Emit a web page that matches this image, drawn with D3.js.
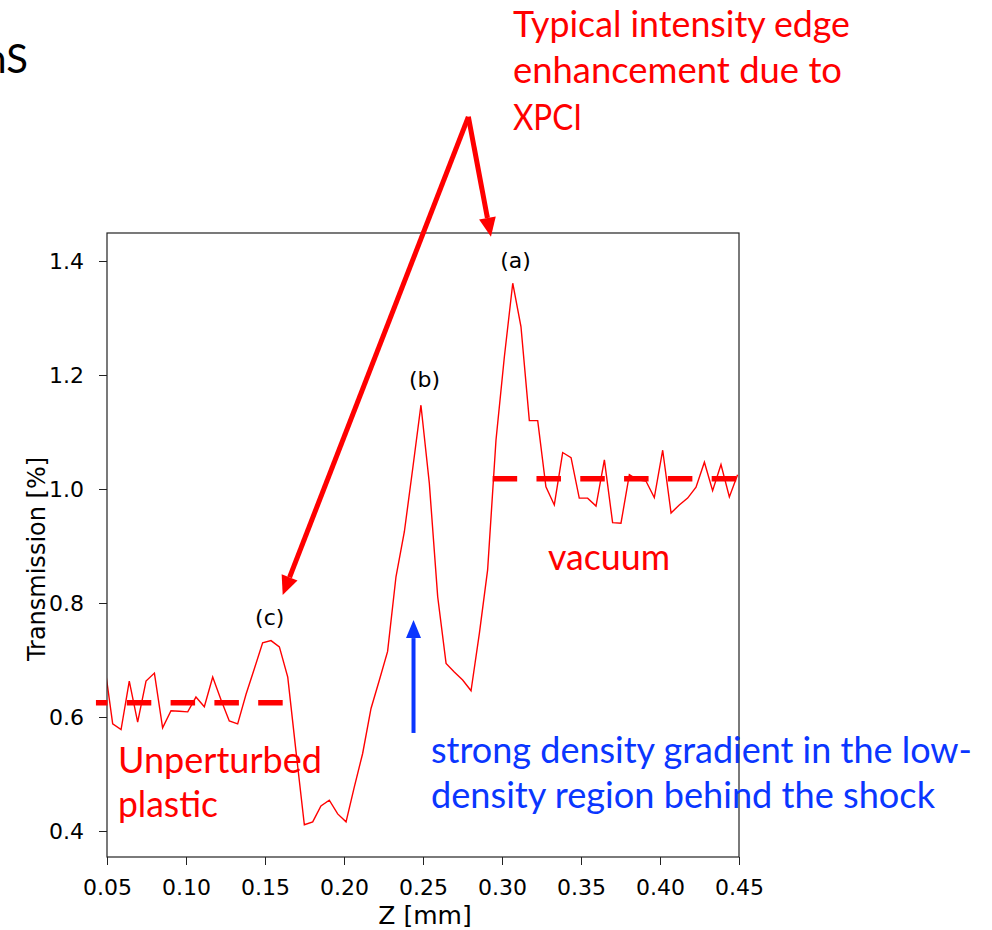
<!DOCTYPE html>
<html>
<head>
<meta charset="utf-8">
<script src="https://cdn.jsdelivr.net/npm/d3@7"></script>
<style>
  html, body { margin: 0; padding: 0; background: #fff; }
  svg { display: block; }
</style>
</head>
<body>
<div id="chart"></div>
<script>
// Z position [mm] of each sample of the lineout
const zValues = [
  0.0483, 0.0536, 0.0589, 0.0641, 0.0694, 0.0747, 0.0800, 0.0852, 0.0905, 0.0958,
  0.1011, 0.1063, 0.1116, 0.1169, 0.1222, 0.1274, 0.1327, 0.1380, 0.1433, 0.1485,
  0.1538, 0.1591, 0.1644, 0.1696, 0.1749, 0.1802, 0.1854, 0.1907, 0.1960, 0.2013,
  0.2065, 0.2118, 0.2171, 0.2224, 0.2276, 0.2329, 0.2382, 0.2435, 0.2487, 0.2540,
  0.2593, 0.2646, 0.2698, 0.2751, 0.2804, 0.2857, 0.2909, 0.2962, 0.3015, 0.3068,
  0.3120, 0.3173, 0.3226, 0.3278, 0.3331, 0.3384, 0.3437, 0.3489, 0.3542, 0.3595,
  0.3648, 0.3700, 0.3753, 0.3806, 0.3859, 0.3911, 0.3964, 0.4017, 0.4070, 0.4122,
  0.4175, 0.4228, 0.4281, 0.4333, 0.4386, 0.4439, 0.4491
]

// transmission read at each z
const transmission = [
  0.695, 0.588, 0.578, 0.663, 0.591, 0.663, 0.677, 0.581, 0.611, 0.610,
  0.609, 0.635, 0.618, 0.670, 0.630, 0.593, 0.588, 0.640, 0.685, 0.730,
  0.734, 0.723, 0.670, 0.540, 0.411, 0.416, 0.444, 0.454, 0.430, 0.416,
  0.477, 0.536, 0.615, 0.665, 0.715, 0.846, 0.925, 1.036, 1.147, 1.010,
  0.811, 0.694, 0.679, 0.665, 0.646, 0.747, 0.858, 1.086, 1.232, 1.361,
  1.285, 1.120, 1.120, 1.004, 0.972, 1.064, 1.055, 0.984, 0.984, 0.970,
  1.051, 0.941, 0.940, 1.025, 1.016, 1.014, 0.985, 1.068, 0.958, 0.972,
  0.984, 1.003, 1.047, 0.997, 1.043, 0.986, 1.025
]

const xTicks = [0.05, 0.10, 0.15, 0.20, 0.25, 0.30, 0.35, 0.40, 0.45]
const yTicks = [0.4, 0.6, 0.8, 1.0, 1.2, 1.4]

// dashed mean levels: [zStart, zEnd, level]
const plasticLevel = [0.1612, 0.0430, 0.625]
const vacuumLevel = [0.2941, 0.4500, 1.018]

// peak labels: [text, z, transmission]
const peakLabels = [
  ["(a)", 0.3086, 1.388],
  ["(b)", 0.2510, 1.179],
  ["(c)", 0.1530, 0.762]
]

const width = 992
const height = 930
const plot = { left: 107, right: 739, top: 233, bottom: 857 }

const x = d3.scaleLinear().domain([0.05, 0.45]).range([plot.left, plot.right])
const y = d3.scaleLinear().domain([0.4, 1.4]).range([831, 261])

const red = "#ff0000"
const blue = "#0a36ff"
const slideFont = "Lato, 'Open Sans', sans-serif"
const plotFont = "'DejaVu Sans', sans-serif"

const svg = d3.select("#chart")
  .append("svg")
  .attr("width", width)
  .attr("height", height)
  .attr("viewBox", `0 0 ${width} ${height}`)

svg.append("defs").append("clipPath")
  .attr("id", "plot-clip")
  .append("rect")
  .attr("x", plot.left)
  .attr("y", plot.top)
  .attr("width", plot.right - plot.left)
  .attr("height", plot.bottom - plot.top)

// lineout
const points = zValues.map((z, i) => [z, transmission[i]])
svg.append("path")
  .datum(points)
  .attr("clip-path", "url(#plot-clip)")
  .attr("fill", "none")
  .attr("stroke", red)
  .attr("stroke-width", 1.4)
  .attr("stroke-linejoin", "miter")
  .attr("d", d3.line().x(d => x(d[0])).y(d => y(d[1])))

// axes
svg.append("g")
  .attr("transform", `translate(0,${plot.bottom})`)
  .call(d3.axisBottom(x).tickValues(xTicks).tickFormat(d3.format(".2f")).tickSize(8).tickPadding(14))
  .call(g => g.select(".domain").remove())
  .call(g => g.selectAll(".tick line").attr("stroke", "#222"))
  .call(g => g.selectAll(".tick text").attr("font-family", plotFont).attr("font-size", 22).attr("fill", "#000"))

svg.append("g")
  .attr("transform", `translate(${plot.left},0)`)
  .call(d3.axisLeft(y).tickValues(yTicks).tickFormat(d3.format(".1f")).tickSize(8).tickPadding(15))
  .call(g => g.select(".domain").remove())
  .call(g => g.selectAll(".tick line").attr("stroke", "#222"))
  .call(g => g.selectAll(".tick text").attr("font-family", plotFont).attr("font-size", 22).attr("fill", "#000"))

// frame
svg.append("rect")
  .attr("x", plot.left)
  .attr("y", plot.top)
  .attr("width", plot.right - plot.left)
  .attr("height", plot.bottom - plot.top)
  .attr("fill", "none")
  .attr("stroke", "#222")
  .attr("stroke-width", 1.2)

svg.append("text")
  .attr("x", (plot.left + plot.right) / 2 + 2)
  .attr("y", 924)
  .attr("text-anchor", "middle")
  .attr("font-family", plotFont)
  .attr("font-size", 25)
  .attr("fill", "#000")
  .text("Z [mm]")

svg.append("text")
  .attr("transform", `translate(45,${(plot.top + plot.bottom) / 2 + 14}) rotate(-90)`)
  .attr("text-anchor", "middle")
  .attr("font-family", plotFont)
  .attr("font-size", 24)
  .attr("fill", "#000")
  .text("Transmission [%]")

// peak labels
peakLabels.forEach(([t, z, v]) => {
  svg.append("text")
    .attr("x", x(z))
    .attr("y", y(v))
    .attr("text-anchor", "middle")
    .attr("font-family", plotFont)
    .attr("font-size", 22)
    .attr("fill", "#000")
    .text(t)
})

// dashed levels
;[plasticLevel, vacuumLevel].forEach(([z0, z1, v]) => {
  svg.append("line")
    .attr("x1", x(z0)).attr("x2", x(z1))
    .attr("y1", y(v)).attr("y2", y(v))
    .attr("stroke", red)
    .attr("stroke-width", 5.5)
    .attr("stroke-dasharray", "24.5 19.3")
})

// arrows, endpoints in data units
function arrow(from, to, color, lineW, headLen, headW) {
  const x0 = x(from[0]), y0 = y(from[1])
  const x1 = x(to[0]), y1 = y(to[1])
  const a = Math.atan2(y1 - y0, x1 - x0)
  const bx = x1 - headLen * Math.cos(a), by = y1 - headLen * Math.sin(a)
  svg.append("line")
    .attr("x1", x0).attr("y1", y0)
    .attr("x2", bx).attr("y2", by)
    .attr("stroke", color)
    .attr("stroke-width", lineW)
  const nx = -Math.sin(a) * headW / 2, ny = Math.cos(a) * headW / 2
  svg.append("polygon")
    .attr("points", [[x1, y1], [bx + nx, by + ny], [bx - nx, by - ny]].map(p => p.join(",")).join(" "))
    .attr("fill", color)
}

const apex = [0.2787, 1.653]
arrow(apex, [0.2930, 1.4426], red, 5, 19, 17)
arrow(apex, [0.1612, 0.814], red, 5, 19, 17)
arrow([0.2440, 0.572], [0.2440, 0.770], blue, 4, 18, 15)

// slide texts
function slideText(str, px, py, len, color, size) {
  svg.append("text")
    .attr("x", px)
    .attr("y", py)
    .attr("font-family", slideFont)
    .attr("font-size", size)
    .attr("fill", color)
    .attr("textLength", len)
    .attr("lengthAdjust", "spacingAndGlyphs")
    .text(str)
}

slideText("Typical intensity edge", 513, 37, 337, red, 36)
slideText("enhancement due to", 513, 83, 329, red, 36)
slideText("XPCI", 513, 130, 69, red, 36)
slideText("vacuum", 548, 570, 122, red, 36)
slideText("Unperturbed", 118, 773, 204, red, 36)
slideText("plastic", 118, 817, 100, red, 36)
slideText("strong density gradient in the low-", 431, 763, 541, blue, 36)
slideText("density region behind the shock", 431, 808, 504, blue, 36)

// cut-off slide title fragment at the top left
svg.append("text")
  .attr("x", 28)
  .attr("y", 73)
  .attr("text-anchor", "end")
  .attr("font-family", slideFont)
  .attr("font-size", 40)
  .attr("fill", "#000")
  .text("nS")
</script>
</body>
</html>
